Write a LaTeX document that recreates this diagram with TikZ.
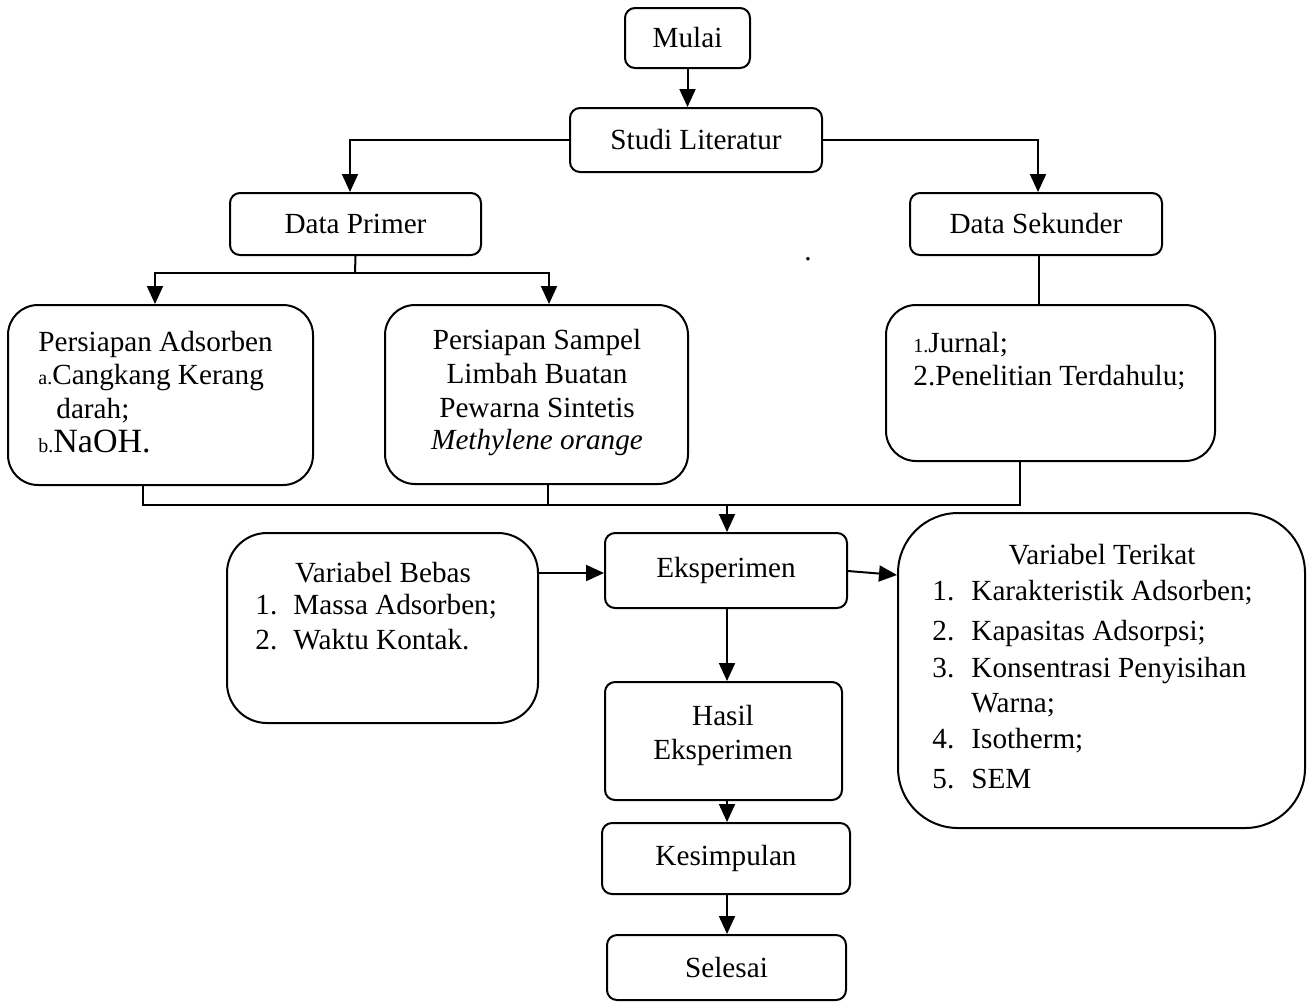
\documentclass[tikz,border=0pt]{standalone}
\usepackage{fontspec}
\setmainfont{Liberation Serif}
\usetikzlibrary{arrows.meta}
\tikzset{
  box/.style={draw, line width=1pt, rounded corners=5pt, inner sep=0pt},
  ln/.style={line width=1pt},
  arr/.style={line width=1pt, -{Triangle[length=9pt,width=8pt]}},
  txt/.style={inner sep=0pt}
}
\begin{document}
\begin{tikzpicture}[x=0.5pt, y=-0.5pt, font=\fontsize{14.6}{17}\selectfont]
\useasboundingbox (0,0) rectangle (1309,1002);
% boxes
\node[box, minimum width=62.5pt, minimum height=30pt] (mulai) at (687.5,38) {Mulai};
\node[box, minimum width=126pt, minimum height=32pt] (studi) at (696,140) {Studi Literatur};
\node[box, minimum width=125.5pt, minimum height=31pt] (dp) at (355.5,224) {Data Primer};
\node[box, minimum width=126pt, minimum height=31pt] (ds) at (1036,224) {Data Sekunder};
\node[box, rounded corners=15pt, minimum width=152.5pt, minimum height=90pt] (pa) at (160.5,395) {};
\node[box, rounded corners=15pt, minimum width=151.5pt, minimum height=89.5pt] (ps) at (536.5,394.5) {};
\node[box, rounded corners=15pt, minimum width=164.5pt, minimum height=78pt] (jr) at (1050.5,383) {};
\node[box, minimum width=121pt, minimum height=37.5pt] (eks) at (726,570.5) {Eksperimen};
\node[box, rounded corners=20pt, minimum width=155.5pt, minimum height=95pt] (vb) at (382.5,628) {};
\node[box, rounded corners=30pt, minimum width=203.5pt, minimum height=157.5pt] (vt) at (1101.5,670.5) {};
\node[box, minimum width=118.5pt, minimum height=59pt] (hasil) at (723.5,741) {};
\node[box, minimum width=124pt, minimum height=35.5pt] (kes) at (726,858.5) {Kesimpulan};
\node[box, minimum width=119.5pt, minimum height=32.5pt] (sel) at (726.5,967.5) {Selesai};
% texts
\node[txt, anchor=base west] (pa1) at (38,351) {Persiapan Adsorben};
\node[txt, anchor=base west] (pa2) at (38,384) {{\fontsize{10}{12}\selectfont a.}Cangkang Kerang};
\node[txt, anchor=base west] (pa3) at (56,418) {darah;};
\node[txt, anchor=base west] (pa4) at (38,452) {{\fontsize{10}{12}\selectfont b.}{\fontsize{17}{17}\selectfont NaOH.}};
\node[txt, anchor=base] (ps1) at (537,349) {Persiapan Sampel};
\node[txt, anchor=base] (ps2) at (537,383) {Limbah Buatan};
\node[txt, anchor=base] (ps3) at (537,417) {Pewarna Sintetis};
\node[txt, anchor=base] (ps4) at (537,449) {\itshape Methylene orange};
\node[txt, anchor=base west] (jr1) at (913,352) {{\fontsize{10}{12}\selectfont 1.}Jurnal;};
\node[txt, anchor=base west] (jr2) at (913,385) {2.Penelitian Terdahulu;};
\node[txt, anchor=base] (vb0) at (383,582) {Variabel Bebas};
\node[txt, anchor=base west] (vb1n) at (255,614) {1.};
\node[txt, anchor=base west] (vb1) at (293,614) {Massa Adsorben;};
\node[txt, anchor=base west] (vb2n) at (255,649) {2.};
\node[txt, anchor=base west] (vb2) at (293,649) {Waktu Kontak.};
\node[txt, anchor=base] (vt0) at (1102,564) {Variabel Terikat};
\node[txt, anchor=base west] (vt1n) at (932,600) {1.};
\node[txt, anchor=base west] (vt1) at (971,600) {Karakteristik Adsorben;};
\node[txt, anchor=base west] (vt2n) at (932,640) {2.};
\node[txt, anchor=base west] (vt2) at (971,640) {Kapasitas Adsorpsi;};
\node[txt, anchor=base west] (vt3n) at (932,677) {3.};
\node[txt, anchor=base west] (vt3) at (971,677) {Konsentrasi Penyisihan};
\node[txt, anchor=base west] (vt3b) at (971,712) {Warna;};
\node[txt, anchor=base west] (vt4n) at (932,748) {4.};
\node[txt, anchor=base west] (vt4) at (971,748) {Isotherm;};
\node[txt, anchor=base west] (vt5n) at (932,788) {5.};
\node[txt, anchor=base west] (vt5) at (971,788) {SEM};
\node[txt, anchor=base] (h1) at (723,725) {Hasil};
\node[txt, anchor=base] (h2) at (723,759) {Eksperimen};
\node[txt, anchor=base] (dot) at (808,260) {.};
% connectors
\draw[arr] (mulai.south) -- (mulai.south |- studi.north);
\draw[arr] (studi.west) -| (350,0 |- dp.north);
\draw[arr] (studi.east) -| (1038,0 |- ds.north);
\coordinate (j1) at (355,273);
\draw[ln] (dp.south) -- (j1);
\draw[arr] (j1) -| (155,0 |- pa.north);
\draw[arr] (j1) -| (549,0 |- ps.north);
\draw[ln] (1039,0 |- ds.south) -- (1039,0 |- jr.north);
\coordinate (j2) at (727,505);
\draw[ln] (143,0 |- pa.south) -- (143,505) -- (1020,505) -- (1020,0 |- jr.south);
\draw[ln] (548,0 |- ps.south) -- (548,505);
\draw[arr] (j2) -- (j2 |- eks.north);
\draw[arr] (vb.east |- 0,573) -- (eks.west |- 0,573);
\draw[arr] (eks.east |- 0,571) -- (vt.west |- 0,575);
\draw[arr] (727,0 |- eks.south) -- (727,0 |- hasil.north);
\draw[arr] (727,0 |- hasil.south) -- (727,0 |- kes.north);
\draw[arr] (727,0 |- kes.south) -- (727,0 |- sel.north);
\end{tikzpicture}
\end{document}
